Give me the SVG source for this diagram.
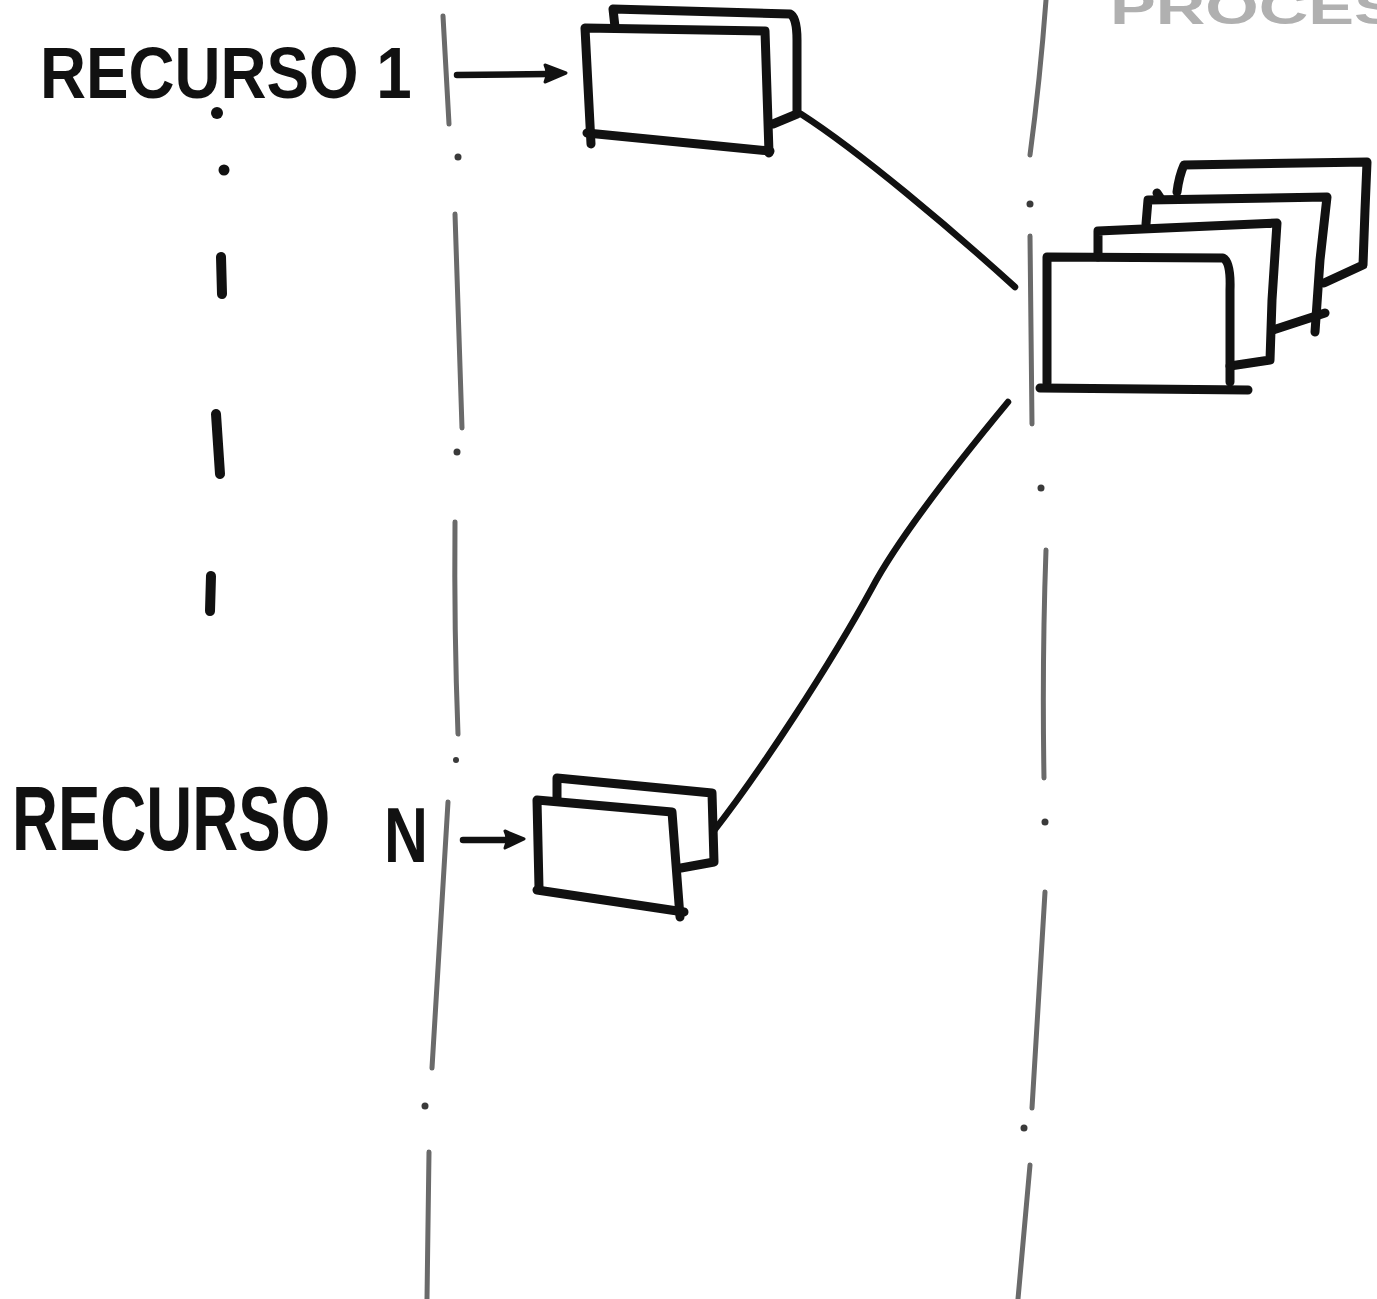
<svg xmlns="http://www.w3.org/2000/svg" width="1377" height="1299" viewBox="0 0 1377 1299">
  <style>
    .lane { fill: none; stroke: #6a6a6a; stroke-width: 5; stroke-linecap: round; }
    .laneDot { fill: #3a3a3a; }
    .ink { fill: none; stroke: #111; stroke-width: 9; stroke-linecap: round; stroke-linejoin: round; }
    .wire { fill: none; stroke: #111; stroke-width: 6.5; stroke-linecap: round; stroke-linejoin: round; }
    .head { fill: #111; stroke: #111; stroke-width: 3; stroke-linejoin: round; }
    .dash { fill: none; stroke: #111; stroke-width: 10; stroke-linecap: round; }
    .label { font-family: "Liberation Sans", Arial, sans-serif; font-weight: bold; fill: #111; }
    .faint { font-family: "Liberation Sans", Arial, sans-serif; font-weight: bold; fill: #b0b0b0; }
  </style>

  <rect width="1377" height="1299" fill="#ffffff"/>

  <!-- swimlane separators (dash-dot) -->
  <g id="lanes">
    <path class="lane" d="M443,16 L449,124"/>
    <circle class="laneDot" cx="458" cy="157" r="3.5"/>
    <path class="lane" d="M455,214 Q458,320 462,428"/>
    <circle class="laneDot" cx="457" cy="452" r="3.5"/>
    <path class="lane" d="M455,522 Q454,630 458,734"/>
    <circle class="laneDot" cx="456" cy="760" r="3"/>
    <path class="lane" d="M448,802 L432,1068"/>
    <circle class="laneDot" cx="425" cy="1106" r="3.5"/>
    <path class="lane" d="M429,1152 L427,1299"/>

    <path class="lane" d="M1046,0 Q1040,80 1030,155"/>
    <circle class="laneDot" cx="1030" cy="204" r="3.5"/>
    <path class="lane" d="M1030,236 L1032,424"/>
    <circle class="laneDot" cx="1041" cy="488" r="3.5"/>
    <path class="lane" d="M1046,550 Q1042,660 1044,778"/>
    <circle class="laneDot" cx="1045" cy="822" r="3.5"/>
    <path class="lane" d="M1045,892 L1032,1108"/>
    <circle class="laneDot" cx="1024" cy="1128" r="3.5"/>
    <path class="lane" d="M1030,1165 L1018,1299"/>
  </g>

  <!-- ellipsis between the resources -->
  <g id="ellipsis">
    <circle cx="217" cy="113" r="6" fill="#111"/>
    <circle cx="224" cy="170" r="5.5" fill="#111"/>
    <path class="dash" d="M221,257 L222,294"/>
    <path class="dash" d="M216,414 L220,474"/>
    <path class="dash" d="M211,576 L210,611"/>
  </g>

  <!-- labels (condensed horizontally to suit the hand lettering) -->
  <g id="labels">
    <text class="label" font-size="72" transform="translate(40,98) scale(0.885,1)">RECURSO 1</text>
    <text class="label" font-size="90" transform="translate(12,850) scale(0.707,1)">RECURSO</text>
    <text class="label" font-size="78" transform="translate(384,862) scale(0.78,1)">N</text>
    <text class="faint" font-size="48" transform="translate(1110,24) scale(1.43,1)">PROCES</text>
  </g>

  <!-- resource 1: two stacked sheets -->
  <g id="node-recurso-1">
    <path class="ink" d="M615,27 L613,9 L790,14 Q797,17 797,40 L797,114 L773,124"/>
    <path class="ink" d="M591,144 L585,28 L765,31 L769,153"/>
    <path class="ink" d="M587,133 L770,151"/>
  </g>

  <!-- resource N: two stacked sheets -->
  <g id="node-recurso-n">
    <path class="ink" d="M557,800 L557,778 L712,793 L714,862 L681,868"/>
    <path class="ink" d="M539,888 L537,800 L672,812 L680,917"/>
    <path class="ink" d="M537,890 L684,912"/>
  </g>

  <!-- processing: four stacked sheets -->
  <g id="node-proceso">
    <path class="ink" d="M1177,192 Q1179,176 1184,165 L1367,162 L1365,210 L1363,265 L1324,283"/>
    <path class="ink" d="M1146,224 L1148,200 L1327,197 L1320,260 L1315,332"/>
    <path class="ink" d="M1273,330 L1325,313"/>
    <path class="ink" d="M1157,193 L1161,199"/>
    <path class="ink" d="M1098,257 L1098,231 L1277,223 L1272,300 L1270,360 L1230,366"/>
    <path class="ink" d="M1047,383 L1047,257 L1223,258 Q1231,262 1230,290 L1230,382"/>
    <path class="ink" d="M1040,388 L1248,390"/>
  </g>

  <!-- connectors -->
  <g id="connectors">
    <path class="wire" d="M457,75 L548,74"/>
    <path class="head" d="M545,65 L566,73 L545,82 Q549,73 545,65 Z"/>
    <path class="wire" d="M463,840 L508,840"/>
    <path class="head" d="M505,831 L524,839 L505,848 Q509,839 505,831 Z"/>
    <path class="wire" d="M801,114 C860,152 950,228 1015,287"/>
    <path class="wire" d="M1008,402 C960,460 900,535 872,588 C830,665 760,772 713,832"/>
  </g>
</svg>
